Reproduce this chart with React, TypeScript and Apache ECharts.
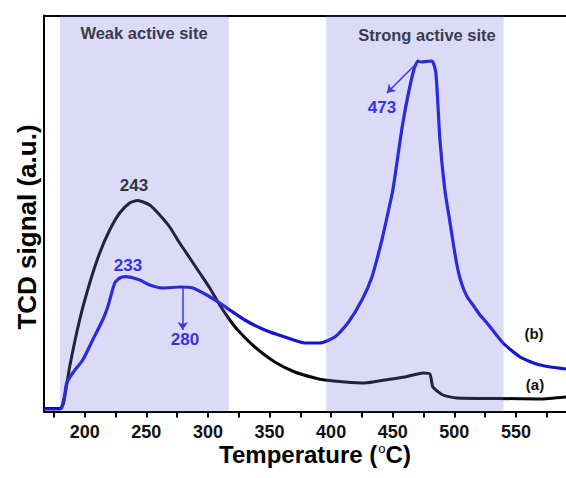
import React, { useEffect, useRef } from "react";
import * as echarts from "echarts";

// Curve (a): temperature (°C) and TCD signal (arbitrary units)
const aTemp = [167, 180, 181.3, 182.9, 187.8, 195.9, 204.1, 212.2, 220.3, 228.4, 236.5, 243, 252.8, 260.9, 269.0, 277.1, 285.3, 293.4, 301.5, 309.6, 317.8, 324.2, 338.1, 354.3, 370.5, 386.8, 394.9, 411.1, 427.4, 443.6, 459.9, 474.5, 480.2, 482.6, 490.7, 502.1, 537.0, 569.5, 590.6];
const aSignal = [3, 3, 4.5, 8.5, 44.5, 91.5, 128.5, 158.5, 181.5, 198.5, 208.5, 211, 206.5, 196.5, 184.5, 168.5, 153.5, 138.5, 123.5, 106.5, 91.5, 81.5, 64.5, 49.5, 39.5, 33.5, 31.5, 29.5, 28.5, 31.5, 34.5, 38.5, 37.5, 24.5, 16.5, 13.5, 13, 12.5, 14.5];

// Curve (b)
const bTemp = [167, 179.7, 181.3, 183.8, 185.4, 190.3, 198.4, 206.5, 214.6, 218.7, 224.4, 228.4, 233, 244.7, 252.8, 263.3, 277.1, 287.7, 299.1, 309.6, 317.8, 329.9, 346.2, 362.4, 378.7, 390.8, 403.0, 413.6, 425.0, 433.1, 441.2, 446.1, 450.1, 458.2, 466.4, 470.4, 473, 481.8, 485.0, 488.3, 492.3, 496.4, 499.7, 502.1, 504.5, 507.8, 511.0, 515.1, 520.8, 526.5, 539.5, 553.3, 569.5, 590.6];
const bSignal = [2.5, 2.5, 3.5, 16.5, 28.5, 38.5, 51.5, 71.5, 91.5, 104.5, 128.5, 133.5, 134.8, 131.5, 126.5, 123.5, 124.5, 123.5, 116.5, 108.5, 101.5, 91.5, 81.5, 74.5, 68.5, 68.5, 74.5, 88.5, 111.5, 134.5, 171.5, 198.5, 221.5, 288.5, 338.5, 350.5, 349.5, 350.5, 338.5, 271.5, 221.5, 189.5, 163.5, 146.5, 133.5, 121.5, 113.5, 106.5, 96.5, 88.5, 68.5, 54.5, 46.5, 42.5];

// Shaded regions
const bandNames = ["Weak active site", "Strong active site"];
const bandStart = [180, 396];
const bandEnd = [317, 540];

// Axis ticks
const xTickLabels = [200, 250, 300, 350, 400, 450, 500, 550];
const xTicks = [175, 200, 225, 250, 275, 300, 325, 350, 375, 400, 425, 450, 475, 500, 525, 550, 575];

// Annotation arrows [fromT, fromV, toT, toV]
const arrow280 = [279.6, 123.5, 279.6, 81.5];
const arrow473 = [469.6, 348.5, 445.3, 318.5];

const FONT = "'Liberation Sans', Arial, Helvetica, sans-serif";
const BLUE = "#1414d4";
const BLUE_TXT = "#3434e2";

export default function App() {
  const ref = useRef<HTMLDivElement>(null);
  useEffect(() => {
    document.body.style.margin = "0";
    const chart = echarts.init(ref.current!, null, { renderer: "svg" });
    const pairs = (t: number[], v: number[]) => t.map((x, i) => [x, v[i]]);
    const txt = (text: string, x: number, y: number, size: number, fill: string, weight = "bold") => ({
      type: "text",
      x,
      y,
      z: 100,
      style: { text, fontSize: size, fontWeight: weight, fontFamily: FONT, fill, align: "center", verticalAlign: "middle" },
    });
    chart.setOption({
      animation: false,
      backgroundColor: "#fff",
      grid: { left: 44, right: 0, top: 15.5, bottom: 66.5, containLabel: false },
      xAxis: [
        {
          type: "value",
          min: 167,
          max: 590.6,
          position: "bottom",
          axisLine: { show: true, onZero: false, lineStyle: { color: "#000", width: 2 } },
          axisTick: { show: true, length: 6, customValues: xTicks, lineStyle: { color: "#000", width: 2 } },
          axisLabel: { show: true, customValues: xTickLabels, margin: 11, fontSize: 18, fontWeight: "bold", fontFamily: FONT, color: "#111" },
          splitLine: { show: false },
        },
        {
          type: "value",
          min: 167,
          max: 590.6,
          position: "top",
          axisLine: { show: true, onZero: false, lineStyle: { color: "#000", width: 2 } },
          axisTick: { show: false },
          axisLabel: { show: false },
          splitLine: { show: false },
        },
      ],
      yAxis: {
        type: "value",
        min: 0,
        max: 396,
        axisLine: { show: true, onZero: false, lineStyle: { color: "#000", width: 2 } },
        axisTick: { show: false },
        axisLabel: { show: false },
        splitLine: { show: false },
      },
      series: [
        {
          type: "line",
          name: "(a)",
          data: pairs(aTemp, aSignal),
          showSymbol: false,
          smooth: 0.2,
          z: 2,
          lineStyle: { color: "#080808", width: 3 },
        },
        {
          type: "line",
          name: "(b)",
          data: pairs(bTemp, bSignal),
          showSymbol: false,
          smooth: 0.2,
          z: 3,
          lineStyle: { color: BLUE, width: 3.2 },
          markLine: {
            silent: true,
            symbol: ["none", "arrow"],
            symbolSize: 8,
            label: { show: false },
            lineStyle: { color: "#2a2ae0", width: 1.5, type: "solid" },
            data: [
              [{ coord: [arrow280[0], arrow280[1]] }, { coord: [arrow280[2], arrow280[3]] }],
              [{ coord: [arrow473[0], arrow473[1]] }, { coord: [arrow473[2], arrow473[3]] }],
            ],
          },
        },
        {
          type: "line",
          name: "bands",
          data: [],
          z: 10,
          silent: true,
          markArea: {
            silent: true,
            z: 10,
            itemStyle: { color: "rgba(112,112,228,0.25)" },
            label: { show: false },
            data: bandNames.map((n, i) => [{ name: n, xAxis: bandStart[i] }, { xAxis: bandEnd[i] }]),
          },
        },
      ],
      graphic: [
        {
          type: "text",
          x: 27,
          y: 227,
          rotation: Math.PI / 2,
          z: 100,
          style: { text: "TCD signal (a.u.)", fontSize: 26, fontWeight: "bold", fontFamily: FONT, fill: "#000", align: "center", verticalAlign: "middle" },
        },
        {
          type: "text",
          x: 315,
          y: 454,
          z: 100,
          style: {
            text: "Temperature ({s|o}C)",
            fontSize: 24,
            fontWeight: "bold",
            fontFamily: FONT,
            fill: "#000",
            align: "center",
            verticalAlign: "middle",
            rich: { s: { fontSize: 13, fontWeight: "normal", fontFamily: FONT, fill: "#000", verticalAlign: "top", padding: [0, 0, 10, 1] } },
          },
        },
        txt(bandNames[0], 144, 33, 16.5, "#3a3a4e"),
        txt(bandNames[1], 427, 35, 16.5, "#3a3a4e"),
        txt("243", 134, 185, 17, "#35353f"),
        txt("233", 128, 265, 17, BLUE_TXT),
        txt("280", 185, 339, 17, BLUE_TXT),
        txt("473", 382, 107, 17, BLUE_TXT),
        txt("(b)", 534, 333, 15, "#111"),
        txt("(a)", 535, 384, 15, "#111"),
      ],
    });
    return () => chart.dispose();
  }, []);
  return <div ref={ref} style={{ width: 566, height: 478 }} />;
}
